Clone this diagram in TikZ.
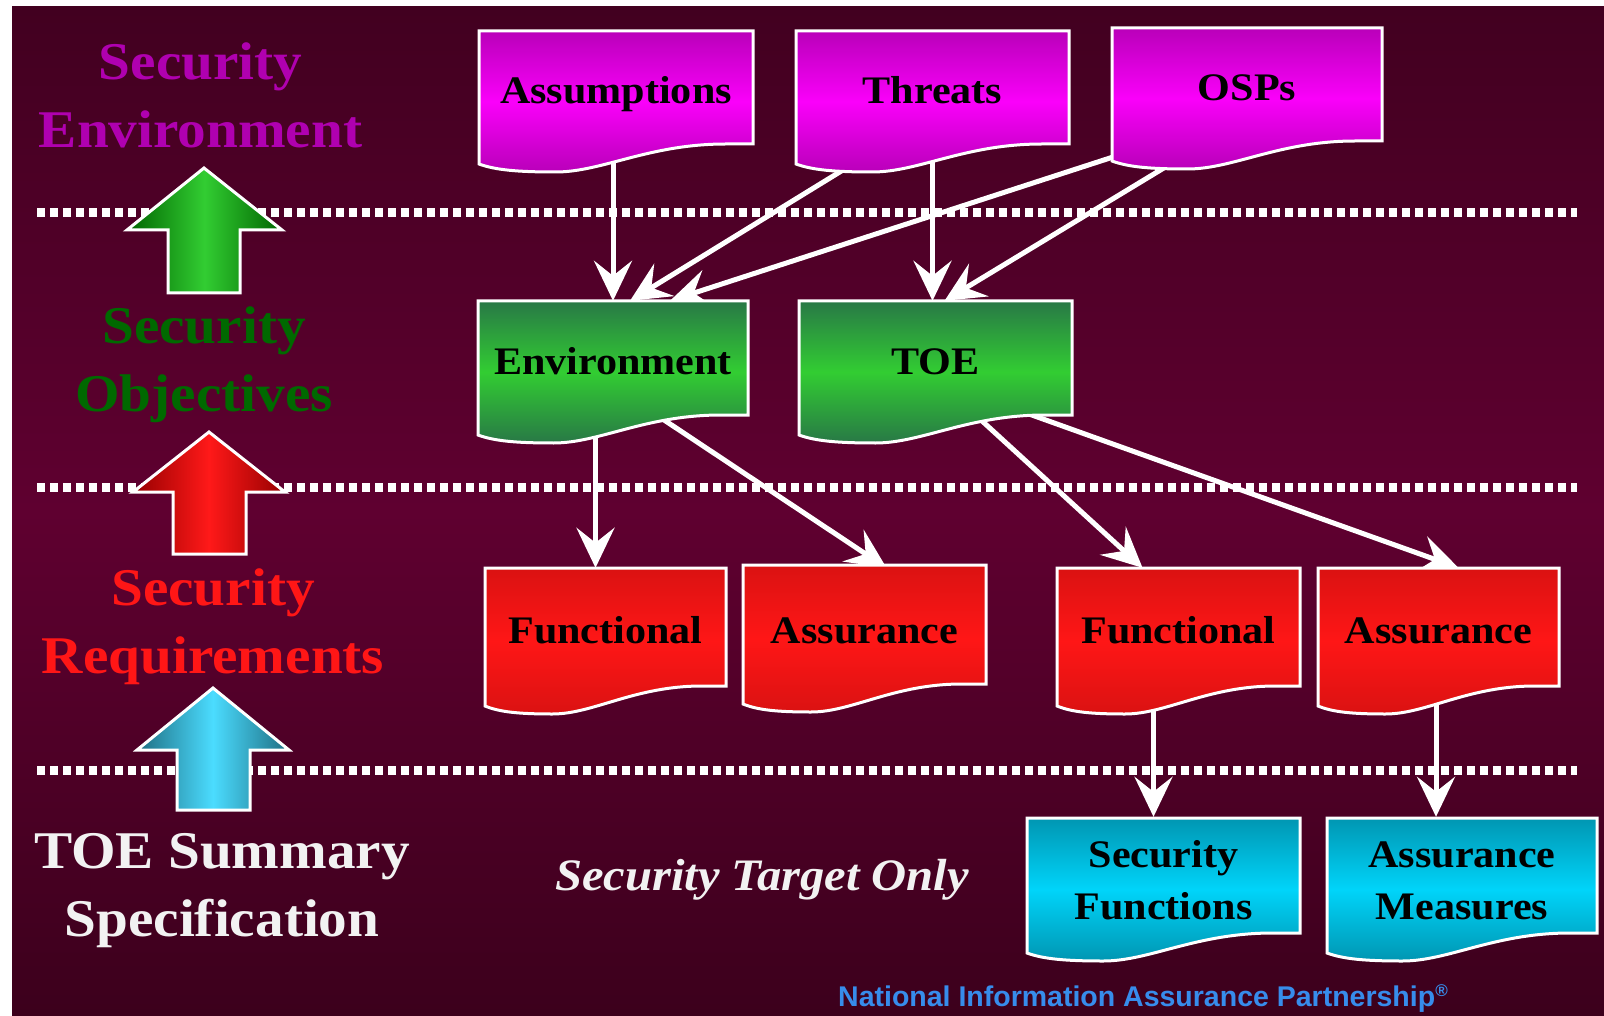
\documentclass[tikz,border=0pt]{standalone}
\usepackage{fontspec}
\setmainfont{Liberation Serif}[FakeStretch=1.08]
\newfontfamily\arialfont{Liberation Sans}
\usetikzlibrary{arrows.meta,calc}
\pgfdeclarelayer{bglayer}
\pgfdeclarelayer{connlayer}
\pgfsetlayers{bglayer,connlayer,main}

\definecolor{bgT}{RGB}{66,0,32}
\definecolor{bgM}{RGB}{95,0,48}
\definecolor{bgB}{RGB}{60,0,28}
\definecolor{magT}{RGB}{185,0,185}
\definecolor{magM}{RGB}{250,0,250}
\definecolor{grnT}{RGB}{40,120,70}
\definecolor{grnM}{RGB}{50,205,50}
\definecolor{redT}{RGB}{218,18,18}
\definecolor{redM}{RGB}{255,22,22}
\definecolor{cyaT}{RGB}{0,150,178}
\definecolor{cyaM}{RGB}{0,212,250}
\definecolor{lblmag}{RGB}{176,0,176}
\definecolor{lblgrn}{RGB}{0,105,0}
\definecolor{lblred}{RGB}{255,22,22}
\definecolor{lblwht}{RGB}{242,242,242}
\definecolor{niapblue}{RGB}{55,140,235}
\definecolor{arG1}{RGB}{0,100,0}
\definecolor{arG2}{RGB}{50,205,50}
\definecolor{arR1}{RGB}{150,0,0}
\definecolor{arR2}{RGB}{255,25,25}
\definecolor{arC1}{RGB}{30,110,130}
\definecolor{arC2}{RGB}{75,220,255}

\tikzset{
  boxtext/.style={inner sep=0pt, text=black, font=\fontsize{39}{52}\selectfont\bfseries},
  oneline/.style={text height=32pt, text depth=0pt},
  twoline/.style={align=center, yshift=-5pt},
  magshade/.style={top color=magT, bottom color=magT, middle color=magM},
  grnshade/.style={top color=grnT, bottom color=grnT, middle color=grnM},
  redshade/.style={top color=redT, bottom color=redT, middle color=redM},
  cyashade/.style={top color=cyaT, bottom color=cyaT, middle color=cyaM},
  lbl/.style={inner sep=0pt, align=center, anchor=north, font=\fontsize{53}{68}\selectfont\bfseries},
  dotline/.style={white, line width=9pt, dash pattern=on 8pt off 5pt},
  conn/.style={white, line width=5pt, -{Stealth[length=40pt,width=38pt,inset=15pt]}},
  uparrow/.style={draw=white, line width=3pt, line join=miter},
}

\newcommand\docbox[8]{%
  \pgfmathsetmacro\dbR{#2+#4}%
  \pgfmathsetmacro\dbB{#3+#5}%
  \pgfmathsetmacro\dbA{#2+0.9*#4}%
  \pgfmathsetmacro\dbC{#2+0.62*#4}%
  \pgfmathsetmacro\dbD{#2+0.45*#4}%
  \pgfmathsetmacro\dbE{#2+0.28*#4}%
  \pgfmathsetmacro\dbF{#2+0.14*#4}%
  \pgfmathsetmacro\dbG{#2+0.06*#4}%
  \pgfmathsetmacro\dbL{#3+#5+28}%
  \pgfmathsetmacro\dbM{#3+#5+20}%
  \pgfmathsetmacro\dbN{#3+#5+26}%
  \pgfmathsetmacro\dbX{#2+#4/2}%
  \pgfmathsetmacro\dbY{#3+#5/2}%
  \path[#6, draw=white, line width=3pt, line join=miter]
    (#2,#3) -- (\dbR,#3) -- (\dbR,\dbB) -- (\dbA,\dbB)
    .. controls (\dbC,\dbB) and (\dbD,\dbL) .. (\dbE,\dbL)
    .. controls (\dbF,\dbL) and (\dbG,\dbN) .. (#2,\dbM) -- cycle;
  \node[boxtext,#7,minimum width=#4pt,minimum height=#5pt] (#1) at (\dbX,\dbY) {#8};
}

\begin{document}
\begin{tikzpicture}[x=1pt,y=-1pt]
\useasboundingbox (0,0) rectangle (1604,1016);

\begin{pgfonlayer}{bglayer}
  \fill[white] (0,0) rectangle (1604,1016);
  \shade[top color=bgT, bottom color=bgB, middle color=bgM] (12,7) rectangle (1604,1016);
  \draw[dotline] (37,213) -- (1577,213);
  \draw[dotline] (37,487) -- (1577,487);
  \draw[dotline] (37,770) -- (1577,770);
\end{pgfonlayer}

% left column arrows
\path[uparrow, left color=arG1, right color=arG1, middle color=arG2]
  (204,168) -- (282,230) -- (240,230) -- (240,293) -- (168,293) -- (168,230) -- (127,230) -- cycle;
\path[uparrow, left color=arR1, right color=arR1, middle color=arR2]
  (209,432) -- (285,492) -- (246,492) -- (246,554) -- (173,554) -- (173,492) -- (133,492) -- cycle;
\path[uparrow, left color=arC1, right color=arC1, middle color=arC2]
  (213,688) -- (289,750) -- (250,750) -- (250,810) -- (177,810) -- (177,750) -- (137,750) -- cycle;

% left column labels
\node[lbl, text=lblmag] (lenv) at (200.5,42.5) {Security\\Environment};
\node[lbl, text=lblgrn] (lobj) at (204,306.5) {Security\\Objectives};
\node[lbl, text=lblred] (lreq) at (213,568.5) {Security\\Requirements};
\node[lbl, text=lblwht] (ltss) at (222,833.5) {TOE Summary\\Specification};

% boxes
\docbox{asm}{479}{31}{274}{113}{magshade}{oneline}{Assumptions}
\docbox{thr}{796}{31}{273}{113}{magshade}{oneline}{Threats}
\docbox{osp}{1112}{28}{270}{113}{magshade}{oneline}{OSPs}
\docbox{env}{478}{301}{270}{114}{grnshade}{oneline}{Environment}
\docbox{toe}{799}{301}{273}{114}{grnshade}{oneline}{TOE}
\docbox{fn1}{485}{568}{241}{118}{redshade}{oneline}{Functional}
\docbox{as1}{743}{565}{243}{119}{redshade}{oneline,yshift=-3pt}{Assurance}
\docbox{fn2}{1057}{568}{243}{118}{redshade}{oneline}{Functional}
\docbox{as2}{1318}{568}{241}{118}{redshade}{oneline}{Assurance}
\docbox{sf}{1027}{818}{273}{115}{cyashade}{twoline}{Security\\Functions}
\docbox{am}{1327}{818}{270}{115}{cyashade}{twoline}{Assurance\\Measures}

\node[anchor=base, inner sep=0pt, text=lblwht, font=\fontsize{45}{54}\selectfont\bfseries\itshape] (sto) at (762,890) {Security Target Only};
\node[anchor=base, inner sep=0pt, text=niapblue, font=\arialfont\fontsize{28.5}{32}\selectfont\bfseries] (niap) at (1143,1006) {National Information Assurance Partnership\raisebox{10pt}{\fontsize{17}{17}\selectfont ®}};

% connectors
\coordinate (f1top) at ($(fn1.north)+(-10,0)$);
\coordinate (sfin) at ($(sf.north)+(-10,-6)$);
\coordinate (amin) at ($(am.north)+(-26,-6)$);
\begin{pgfonlayer}{connlayer}
  \draw[conn] (asm.center -| env.north) -- (env.north);
  \draw[conn] ($(thr.center)+(-48,57)$) -- ($(env.north)+(17,0)$);
  \draw[conn] ($(osp.center)+(-100,61.5)$) -- ($(env.north)+(57,0)$);
  \draw[conn] (thr.center) -- (thr.center |- toe.north);
  \draw[conn] ($(osp.center)+(-53.5,65.5)$) -- ($(toe.north)+(9,0)$);
  \draw[conn] (f1top |- env.center) -- (f1top);
  \draw[conn] ($(env.center)+(24,44)$) -- ($(as1.north)+(22,0)$);
  \draw[conn] ($(toe.center)+(28,46)$) -- ($(fn2.north)+(-36,0)$);
  \draw[conn] ($(toe.center)+(60,44)$) -- ($(as2.north)+(20,0)$);
  \draw[conn] (sfin |- fn2.center) -- (sfin);
  \draw[conn] (amin |- as2.center) -- (amin);
\end{pgfonlayer}
\end{tikzpicture}
\end{document}
